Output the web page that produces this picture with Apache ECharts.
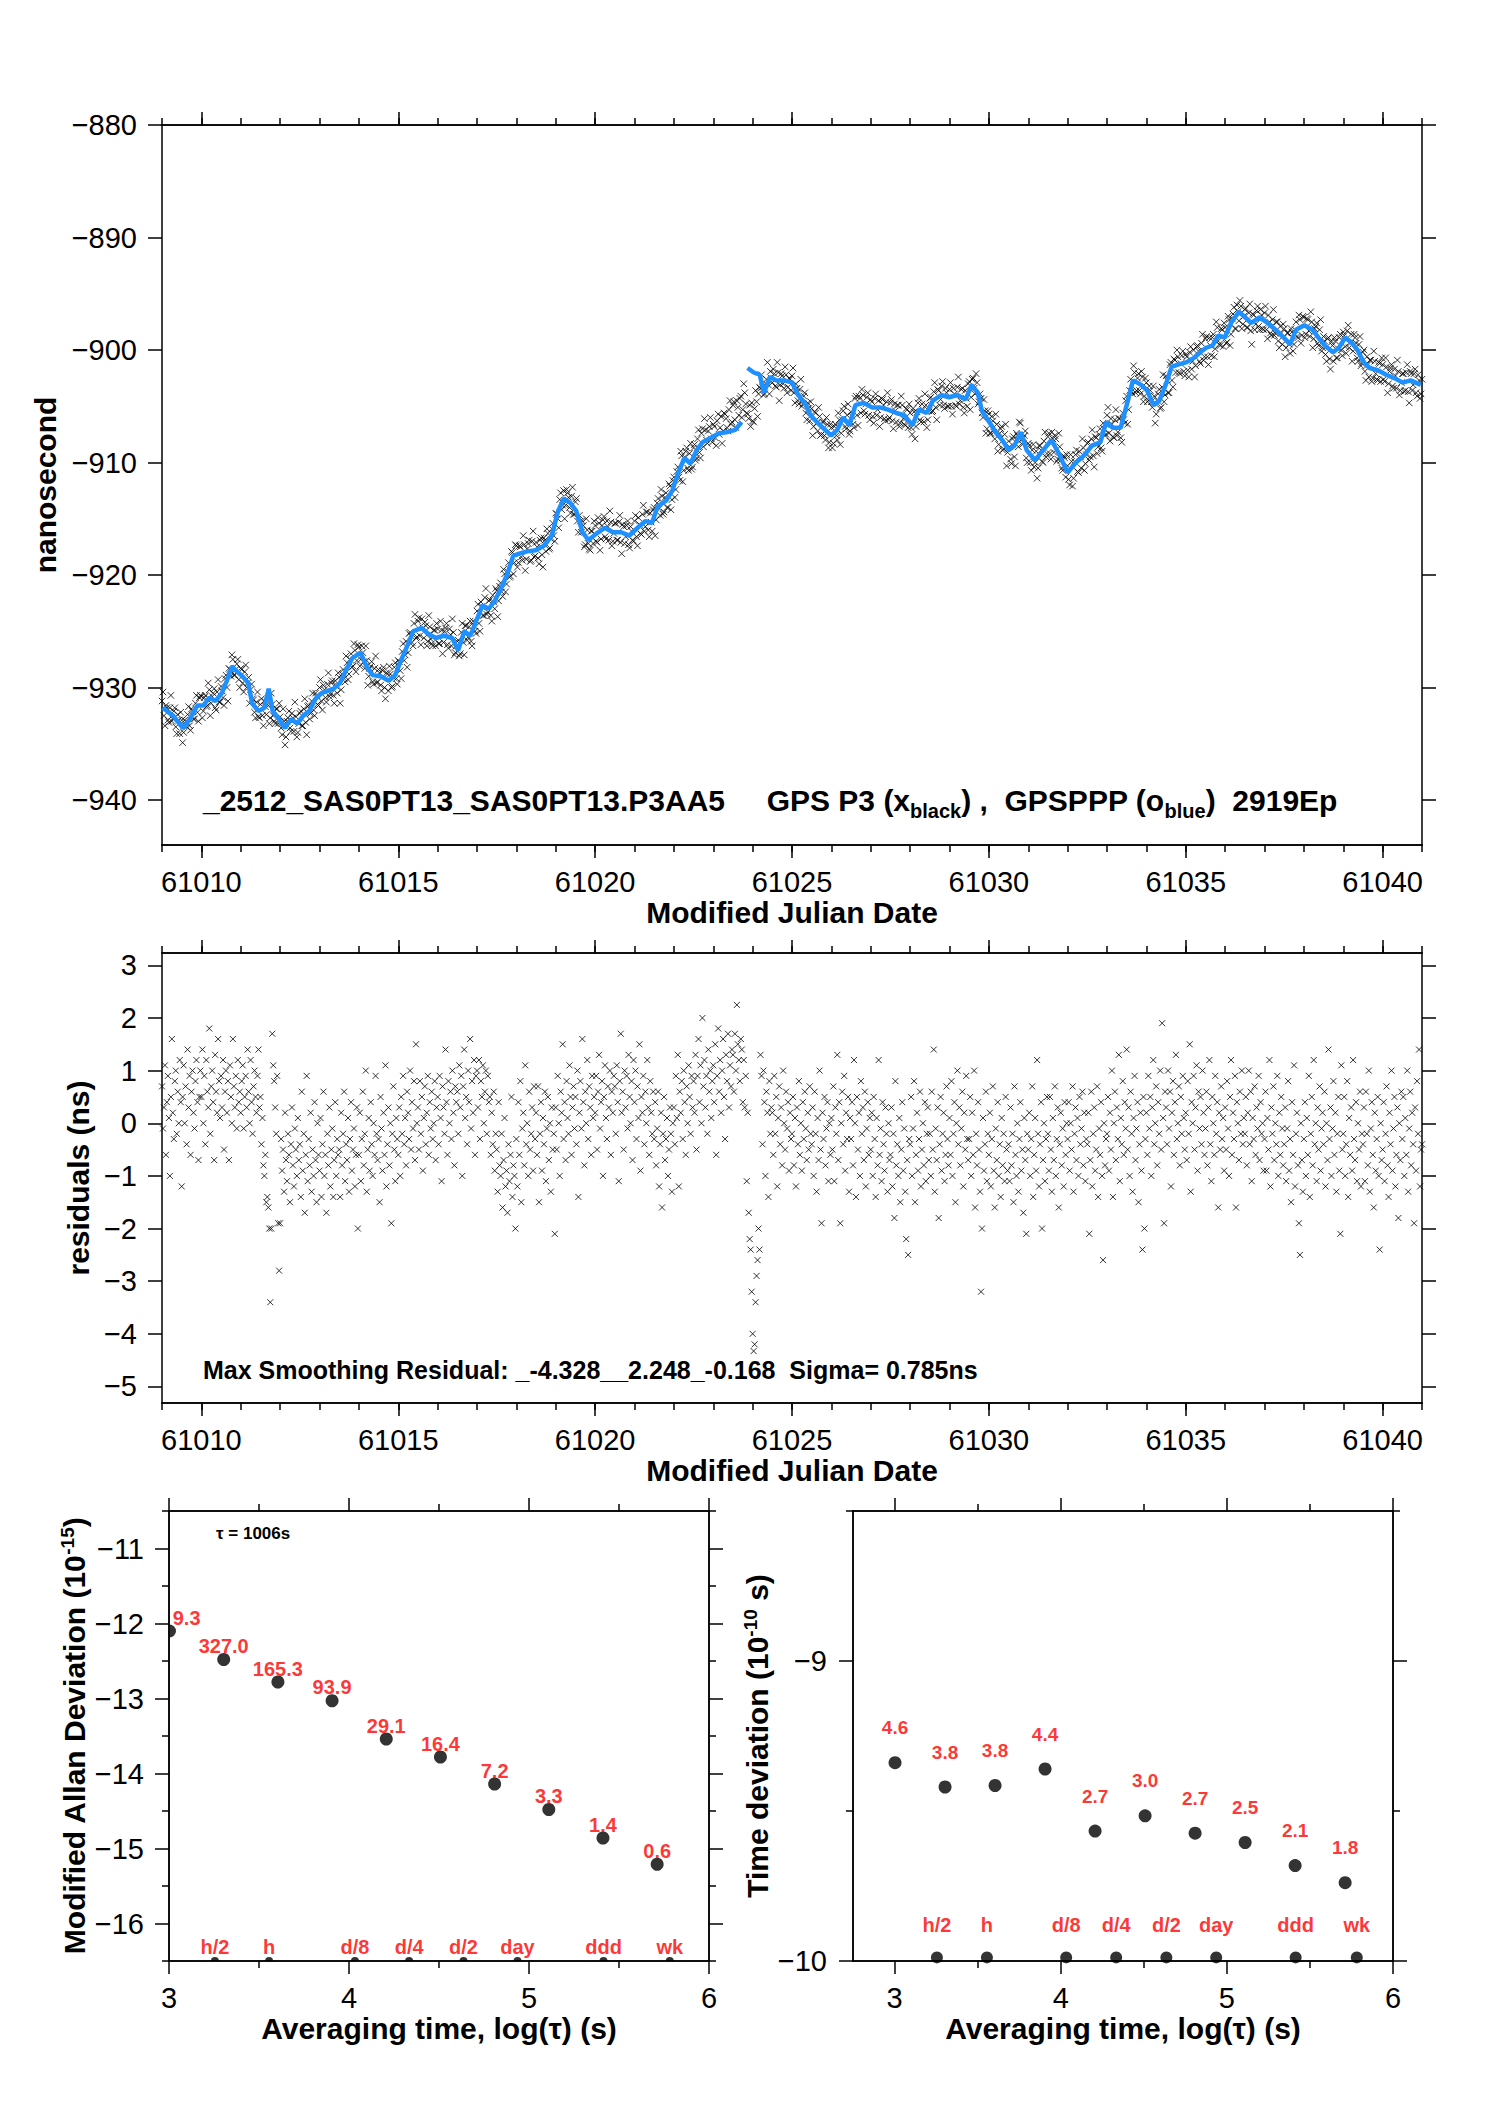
<!DOCTYPE html>
<html><head><meta charset="utf-8">
<script src="https://cdn.jsdelivr.net/npm/echarts@6/dist/echarts.min.js"></script>
<style>html,body{margin:0;padding:0;background:#fff}#c{width:1488px;height:2105px}</style>
</head><body><div id="c"></div>
<script>
// ---------- DATA ----------
// Top panel: GPS P3 black points, epochs every 0.05 d from MJD 61009.000
const blackStart = 61009.0, blackStep = 0.05;
const blackNs = [
-931.2,-932.5,-931.6,-932.9,-931.8,-933.0,-932.1,-933.5,-932.4,-934.1,-932.9,-934.0,-933.0,-932.4,-933.4,-931.9,-932.8,-931.4,-932.2,-930.9,
-930.8,-932.1,-930.7,-931.6,-930.2,-931.4,-930.5,-931.8,-930.4,-931.3,-929.9,-930.9,-929.2,-930.0,-928.3,-929.0,-927.5,-928.9,-927.9,-929.3,
-928.3,-929.6,-928.6,-930.0,-929.1,-930.2,-931.0,-932.2,-931.3,-932.6,-931.5,-932.5,-931.2,-932.4,-931.6,-932.7,-931.5,-933.0,-931.9,-933.2,
-932.6,-934.2,-933.0,-934.4,-932.7,-933.6,-932.3,-933.9,-932.6,-934.0,-932.3,-933.4,-931.9,-933.1,-931.7,-932.8,-931.2,-932.0,-930.5,-931.5,
-930.0,-931.2,-929.8,-930.9,-929.7,-930.8,-929.6,-930.7,-929.4,-930.5,-929.1,-930.2,-928.4,-929.5,-927.8,-928.8,-927.0,-928.1,-926.7,-927.6,
-926.4,-927.5,-926.9,-928.3,-927.6,-929.0,-928.1,-929.5,-928.3,-929.6,-928.4,-929.8,-928.5,-930.0,-928.7,-930.3,-928.8,-929.9,-928.2,-929.2,
-927.6,-928.5,-926.8,-927.6,-925.9,-926.9,-925.1,-926.0,-924.3,-925.6,-924.1,-925.4,-923.9,-925.6,-924.5,-925.9,-924.6,-926.1,-924.9,-926.3,
-924.8,-926.1,-924.9,-926.0,-924.7,-926.2,-924.8,-926.3,-925.1,-926.9,-925.9,-927.2,-925.1,-926.0,-924.5,-925.8,-924.6,-925.9,-924.1,-925.0,
-923.2,-924.3,-922.4,-923.6,-922.0,-923.5,-922.3,-923.6,-921.8,-923.0,-921.4,-922.3,-920.7,-921.9,-919.9,-920.8,-918.9,-920.1,-918.0,-918.9,
-917.4,-918.9,-917.5,-918.7,-917.3,-918.6,-917.2,-918.8,-917.0,-918.4,-917.1,-918.5,-916.9,-918.2,-916.7,-917.9,-916.3,-917.6,-915.9,-916.5,
-914.5,-915.0,-913.3,-914.2,-912.5,-913.8,-912.7,-914.0,-913.0,-914.6,-913.5,-915.2,-914.7,-916.2,-915.6,-917.3,-916.0,-917.7,-916.1,-917.2,
-915.6,-917.1,-915.4,-916.8,-915.1,-916.6,-915.2,-916.9,-915.3,-917.0,-915.4,-916.9,-915.3,-917.1,-915.5,-917.2,-915.6,-917.3,-915.7,-916.9,
-915.2,-916.6,-914.9,-916.3,-914.6,-916.1,-914.4,-916.0,-914.5,-916.1,-914.0,-915.1,-913.2,-914.7,-913.0,-914.4,-912.7,-914.0,-912.1,-913.3,
-911.3,-912.4,-910.4,-911.6,-909.4,-910.7,-909.0,-910.5,-909.2,-910.6,-908.7,-909.8,-907.9,-909.1,-907.4,-908.6,-907.1,-908.3,-906.8,-907.9,
-906.6,-907.8,-906.3,-907.5,-905.9,-907.2,-905.7,-906.9,-905.3,-906.6,-904.9,-906.2,-904.5,-905.8,-904.1,-905.3,-903.8,-905.6,-906.1,-906.8,
-906.3,-905.2,-904.6,-903.9,-903.4,-903.3,-903.9,-902.6,-903.1,-901.9,-902.9,-902.1,-903.3,-902.0,-903.1,-902.3,-903.4,-902.2,-903.3,-902.6,
-902.3,-903.8,-903.0,-904.5,-903.5,-905.0,-904.1,-905.6,-904.7,-906.3,-905.2,-906.8,-905.6,-907.2,-905.9,-907.5,-906.4,-908.0,-906.6,-908.2,
-906.9,-908.3,-906.6,-908.0,-906.2,-907.4,-905.4,-906.8,-905.8,-907.5,-905.5,-906.6,-904.3,-905.8,-904.1,-905.6,-904.0,-905.7,-904.2,-905.8,
-904.4,-905.9,-904.3,-905.8,-904.5,-906.0,-904.4,-906.1,-904.6,-906.2,-904.7,-906.3,-904.8,-906.4,-904.9,-906.5,-904.9,-906.6,-905.2,-906.9,
-905.6,-907.5,-905.5,-906.8,-904.7,-906.2,-904.8,-906.4,-904.9,-906.2,-904.3,-905.5,-903.7,-905.1,-903.5,-904.9,-903.2,-904.9,-903.4,-905.0,
-903.5,-905.0,-903.4,-904.9,-903.3,-904.8,-903.5,-905.1,-903.6,-905.0,-902.8,-904.2,-902.5,-903.9,-902.9,-904.6,-904.3,-906.0,-905.4,-907.0,
-905.7,-907.4,-906.3,-907.9,-906.6,-908.4,-907.0,-908.9,-907.5,-910.3,-908.1,-909.7,-907.9,-909.5,-907.4,-908.6,-906.5,-908.4,-907.6,-909.6,
-908.3,-910.0,-908.9,-910.4,-909.0,-910.5,-908.5,-909.9,-908.1,-909.5,-907.7,-909.2,-907.3,-909.1,-907.9,-909.7,-908.6,-910.5,-909.4,-911.3,
-910.3,-912.0,-909.9,-911.4,-909.3,-910.8,-909.0,-910.5,-908.7,-910.1,-908.3,-909.8,-907.9,-909.4,-907.7,-909.2,-907.5,-908.7,-906.5,-907.6,
-905.8,-907.4,-906.1,-907.7,-906.2,-907.6,-906.1,-907.8,-905.6,-906.5,-904.1,-905.3,-902.6,-903.9,-902.0,-903.6,-902.1,-903.9,-902.4,-904.1,
-902.9,-904.5,-903.6,-905.1,-904.1,-905.7,-903.9,-905.2,-903.3,-904.6,-902.3,-903.8,-901.3,-902.7,-900.8,-902.0,-900.6,-902.1,-900.5,-901.9,
-900.4,-901.8,-900.2,-901.7,-900.0,-901.4,-899.6,-901.0,-899.4,-900.9,-899.0,-900.6,-898.9,-900.5,-898.6,-899.9,-898.0,-899.5,-898.1,-899.7,
-898.0,-899.3,-897.3,-898.6,-896.8,-898.1,-896.0,-897.4,-896.1,-897.7,-896.4,-898.0,-896.7,-898.3,-896.8,-898.2,-896.5,-897.9,-896.4,-898.1,
-896.7,-898.2,-896.9,-898.5,-897.3,-898.7,-897.5,-899.2,-897.9,-899.5,-898.1,-899.8,-898.5,-900.3,-898.4,-899.5,-897.5,-898.9,-897.3,-898.7,
-897.1,-898.6,-897.3,-898.8,-897.5,-899.0,-897.9,-899.4,-898.2,-900.1,-898.8,-900.4,-899.0,-900.8,-899.3,-901.0,-899.2,-900.7,-898.9,-900.0,
-898.4,-899.7,-898.3,-899.8,-898.6,-900.1,-898.9,-900.7,-899.5,-901.4,-900.2,-901.9,-900.6,-902.4,-900.9,-902.5,-901.0,-902.6,-901.1,-902.8,
-901.3,-902.8,-901.5,-903.0,-901.6,-903.2,-901.7,-903.4,-901.9,-903.6,-902.1,-903.7,-902.0,-903.7,-901.9,-903.6,-902.1,-903.8,-902.2,-904.3,
-902.6];
// Top panel: more GPS P3 black points, epochs every 0.05 d from MJD 61009.025
const blackStartB = 61009.025;
const blackNsB = [
-930.4,-933.4,-931.8,-933.1,-930.7,-932.8,-931.8,-934.1,-932.9,-932.2,-934.9,-932.9,-933.5,-931.7,-933.8,-932.1,-932.8,-930.7,-933.0,-930.7,
-932.7,-930.9,-931.7,-929.6,-932.5,-930.8,-930.1,-932.0,-929.3,-931.3,-930.3,-931.6,-928.9,-931.2,-928.4,-927.1,-928.9,-928.4,-927.5,-930.0,
-928.4,-930.4,-928.0,-929.6,-931.4,-929.7,-931.1,-932.7,-930.4,-932.7,-931.0,-933.4,-931.7,-931.2,-933.2,-930.5,-932.5,-933.2,-931.9,-931.4,
-933.6,-931.9,-935.1,-933.0,-932.1,-933.9,-932.7,-931.3,-934.4,-933.2,-932.1,-933.4,-931.0,-934.2,-931.6,-932.3,-930.5,-932.5,-930.7,-931.6,
-929.3,-932.0,-930.2,-931.3,-928.7,-930.6,-929.4,-931.4,-929.9,-928.7,-931.4,-928.8,-929.2,-927.2,-929.3,-927.5,-928.2,-926.1,-928.6,-926.2,
-928.1,-926.3,-927.7,-926.3,-929.8,-928.3,-927.7,-929.7,-927.2,-929.5,-928.7,-930.3,-928.2,-931.0,-928.8,-928.1,-930.0,-929.1,-927.8,-929.7,
-927.7,-929.2,-926.1,-927.1,-928.2,-925.2,-925.4,-926.3,-923.5,-925.5,-923.8,-926.2,-924.7,-924.2,-926.3,-923.6,-925.7,-926.3,-924.9,-924.3,
-926.1,-924.1,-927.0,-925.0,-924.3,-926.5,-925.3,-923.9,-927.1,-926.3,-925.8,-927.0,-924.3,-927.1,-924.5,-925.5,-924.1,-926.3,-924.5,-925.2,
-922.6,-925.0,-922.8,-923.6,-921.2,-923.3,-922.2,-924.1,-922.4,-921.2,-923.7,-921.0,-921.5,-919.5,-921.5,-919.7,-920.2,-917.9,-919.9,-917.3,
-919.3,-917.4,-918.4,-916.5,-919.6,-917.7,-916.9,-918.7,-916.1,-918.3,-917.5,-919.0,-916.7,-919.3,-916.9,-915.9,-917.7,-916.8,-915.4,-917.0,
-914.6,-915.8,-912.7,-913.8,-915.0,-912.4,-913.1,-914.5,-912.2,-914.6,-913.2,-916.2,-915.2,-915.2,-917.5,-915.0,-917.2,-917.8,-916.1,-915.2,
-917.0,-914.9,-917.8,-915.6,-914.8,-916.8,-915.7,-914.3,-917.4,-916.3,-915.4,-916.9,-914.7,-918.1,-915.7,-916.6,-915.2,-917.6,-916.1,-917.0,
-914.7,-917.4,-915.5,-916.4,-913.8,-915.7,-914.4,-916.6,-915.3,-914.2,-916.5,-913.6,-914.1,-912.4,-914.6,-913.1,-914.0,-911.9,-914.2,-911.6,
-913.1,-910.8,-911.3,-909.0,-911.7,-909.5,-908.7,-910.7,-908.3,-910.4,-908.4,-909.6,-907.1,-909.6,-907.0,-906.1,-908.0,-907.2,-906.0,-908.2,
-906.8,-908.5,-905.7,-906.9,-908.3,-905.6,-906.1,-907.2,-904.5,-906.4,-904.6,-906.9,-905.1,-904.3,-906.0,-903.0,-904.8,-905.7,-904.9,-904.7,
-906.4,-903.6,-905.9,-903.3,-902.2,-904.0,-903.0,-901.1,-903.9,-902.5,-901.7,-903.2,-901.1,-904.5,-902.1,-903.0,-901.5,-903.8,-902.5,-903.6,
-901.6,-904.7,-903.4,-904.8,-902.6,-904.8,-903.8,-906.2,-905.2,-904.6,-907.6,-905.5,-906.5,-905.1,-907.6,-906.4,-907.6,-906.0,-908.7,-906.6,
-908.7,-906.8,-907.6,-905.6,-908.4,-906.2,-905.0,-907.0,-904.8,-907.2,-905.9,-906.9,-904.1,-906.7,-904.3,-903.5,-905.4,-904.8,-903.8,-906.2,
-904.6,-906.5,-903.9,-905.3,-906.8,-904.3,-904.9,-906.3,-903.8,-906.0,-904.4,-907.0,-905.4,-904.9,-906.8,-904.1,-906.1,-906.7,-905.3,-904.8,
-906.9,-905.2,-907.9,-905.5,-904.3,-906.4,-905.3,-903.9,-906.9,-905.4,-904.2,-905.4,-902.9,-906.2,-903.6,-904.4,-902.8,-905.2,-903.8,-905.0,
-902.9,-905.7,-903.9,-905.0,-902.4,-904.5,-903.4,-905.6,-904.3,-903.0,-905.3,-902.6,-903.4,-902.1,-904.8,-903.9,-905.6,-904.4,-907.4,-905.4,
-907.4,-905.9,-907.3,-905.7,-909.0,-907.4,-906.8,-908.8,-906.6,-909.1,-908.6,-910.1,-907.7,-910.3,-907.6,-906.4,-908.0,-907.8,-907.2,-910.0,
-908.5,-910.7,-908.4,-910.0,-911.4,-908.5,-908.9,-910.0,-907.3,-909.2,-907.4,-909.7,-907.9,-907.6,-909.9,-907.4,-909.8,-910.7,-909.6,-909.3,
-911.5,-909.3,-912.1,-909.9,-908.9,-910.9,-909.5,-907.9,-910.7,-909.3,-908.2,-909.5,-907.1,-910.4,-907.8,-908.6,-907.0,-909.0,-907.0,-907.5,
-905.1,-908.1,-906.6,-907.8,-905.3,-907.3,-906.1,-908.2,-906.2,-904.5,-906.6,-903.6,-903.7,-901.4,-903.8,-902.5,-903.6,-901.9,-904.6,-902.5,
-904.6,-903.2,-904.6,-903.2,-906.5,-904.5,-903.5,-905.1,-902.2,-904.0,-902.7,-903.8,-901.1,-903.3,-900.9,-900.0,-902.0,-901.2,-900.1,-902.3,
-900.6,-902.4,-899.7,-901.0,-902.4,-899.7,-900.1,-901.2,-898.6,-900.6,-898.8,-901.3,-899.6,-898.9,-900.6,-897.5,-899.2,-899.6,-898.2,-897.6,
-899.4,-897.0,-899.6,-897.2,-896.2,-898.1,-896.6,-895.6,-898.1,-897.0,-896.3,-898.0,-895.9,-899.5,-896.9,-897.7,-896.1,-898.2,-896.9,-898.2,
-896.1,-899.0,-897.5,-898.7,-896.4,-898.5,-897.5,-899.8,-898.5,-897.7,-900.6,-898.5,-899.5,-898.1,-900.1,-898.2,-898.8,-896.9,-899.4,-897.0,
-898.9,-897.2,-898.3,-896.6,-899.8,-898.1,-897.6,-899.6,-897.3,-899.8,-899.2,-901.0,-898.9,-901.7,-899.6,-898.9,-900.7,-899.9,-898.6,-900.5,
-898.7,-900.3,-897.8,-899.4,-901.0,-898.6,-899.4,-901.0,-898.8,-901.2,-900.0,-902.7,-901.3,-900.9,-902.8,-900.1,-902.1,-902.7,-901.2,-900.7,
-902.6,-900.7,-903.8,-901.9,-901.3,-903.4,-902.3,-900.9,-904.0,-902.9,-902.1,-903.6,-901.3,-904.7,-902.1,-903.1,-901.7,-904.1,-902.7,-903.9];

// Top panel: GPSPPP blue curve (MJD, ns); null = gap
const blueMjd = [61009.02,61009.28,61009.53,61009.69,61009.90,61010.05,61010.20,61010.36,61010.52,61010.67,61010.78,61010.88,61011.04,61011.19,61011.29,61011.45,61011.60,61011.71,61011.81,61011.97,
61012.12,61012.28,61012.43,61012.59,61012.74,61012.90,61013.05,61013.21,61013.36,61013.52,61013.67,61013.83,61014.04,61014.19,61014.35,61014.55,61014.76,61014.92,61015.07,61015.23,
61015.38,61015.59,61015.75,61015.95,61016.16,61016.37,61016.52,61016.68,61016.83,61016.99,61017.14,61017.30,61017.45,61017.61,61017.76,61017.92,61018.07,61018.28,61018.49,61018.70,
61018.90,61019.06,61019.21,61019.37,61019.52,61019.68,61019.83,61020.04,61020.25,61020.45,61020.66,61020.87,61021.08,61021.28,61021.44,61021.59,61021.80,61021.96,61022.11,61022.27,
61022.42,61022.58,61022.73,61022.94,61023.15,61023.35,61023.56,61023.72,61023.80,61023.87,61024.03,61024.18,61024.29,61024.44,61024.60,61024.80,61025.00,61025.16,61025.32,61025.47,
61025.63,61025.78,61025.99,61026.15,61026.30,61026.46,61026.61,61026.82,61027.03,61027.23,61027.44,61027.65,61027.85,61028.06,61028.22,61028.42,61028.58,61028.79,61028.99,61029.20,
61029.41,61029.56,61029.72,61029.82,61030.03,61030.19,61030.34,61030.50,61030.65,61030.81,61030.96,61031.17,61031.38,61031.59,61031.79,61032.00,61032.21,61032.41,61032.62,61032.83,
61032.98,61033.14,61033.35,61033.50,61033.66,61033.87,61034.02,61034.18,61034.33,61034.49,61034.64,61034.80,61035.01,61035.21,61035.37,61035.52,61035.68,61035.83,61035.99,61036.15,
61036.35,61036.51,61036.66,61036.87,61037.08,61037.28,61037.49,61037.65,61037.80,61038.01,61038.22,61038.37,61038.53,61038.74,61038.89,61039.05,61039.20,61039.36,61039.52,61039.67,
61039.88,61040.09,61040.30,61040.51,61040.71,61040.97];
const blueNs = [-931.8,-932.5,-933.6,-932.9,-931.6,-931.6,-930.9,-931.2,-930.5,-929.2,-928.1,-928.5,-929.0,-929.6,-931.4,-932.1,-931.8,-930.1,-932.1,-932.8,
-933.6,-932.8,-933.2,-932.5,-932.1,-931.0,-930.5,-930.3,-930.1,-929.6,-928.5,-927.4,-926.9,-928.1,-928.9,-929.0,-929.4,-928.9,-927.6,-926.3,
-925.0,-924.7,-925.2,-925.6,-925.4,-925.6,-926.7,-925.0,-925.4,-924.0,-922.7,-923.0,-922.3,-921.2,-920.0,-918.3,-918.1,-917.9,-917.8,-917.4,
-916.5,-914.3,-913.2,-913.6,-914.3,-916.2,-916.9,-916.3,-915.8,-916.2,-916.2,-916.5,-915.8,-915.2,-915.4,-913.9,-913.4,-912.5,-910.9,-909.6,
-910.1,-908.9,-908.2,-907.8,-907.4,-907.3,-907.1,-906.4,null,-901.6,-902.0,-902.2,-903.8,-902.4,-902.7,-902.7,-902.9,-904.0,-904.7,-905.8,
-906.4,-906.9,-907.6,-907.1,-906.0,-906.7,-904.9,-904.7,-905.1,-905.1,-905.3,-905.6,-905.8,-906.7,-905.3,-905.6,-904.5,-904.0,-904.2,-904.0,
-904.4,-903.1,-903.8,-905.4,-906.5,-907.4,-908.0,-908.9,-908.5,-907.3,-908.9,-909.8,-908.9,-908.0,-909.3,-910.9,-910.0,-909.4,-908.5,-908.2,
-906.4,-906.9,-906.9,-904.9,-902.7,-903.1,-903.6,-904.9,-904.5,-903.1,-901.5,-901.3,-901.1,-900.7,-900.2,-899.8,-899.6,-898.7,-898.9,-897.6,
-896.6,-897.1,-897.6,-897.1,-897.6,-898.2,-898.9,-899.5,-898.2,-897.8,-898.2,-898.9,-899.6,-900.2,-899.8,-898.9,-899.3,-900.0,-901.1,-901.6,
-901.8,-902.2,-902.5,-902.9,-902.7,-903.1];

// Middle panel: smoothing residuals (ns), epochs every 0.025 d from MJD 61009.0
const resStart = 61009.0, resStep = 0.025;
const residualNs = [
0.7,-0.1,0.3,1.1,-0.6,0.4,0.9,0.1,-1.0,0.5,1.6,0.2,-0.3,0.8,1.0,-0.2,0.6,0.0,1.2,0.4,
-1.2,0.5,1.1,0.0,0.7,-0.4,1.4,0.3,0.9,-0.6,0.6,1.0,0.2,-0.1,0.8,1.2,0.4,-0.7,0.5,1.0,
0.5,1.4,0.0,0.9,-0.4,1.2,0.6,0.3,1.8,-0.2,0.7,1.0,0.4,-0.7,1.3,0.6,0.2,1.6,0.8,0.1,
0.9,0.3,1.2,-0.5,0.6,1.0,0.2,0.8,-0.7,1.1,0.5,0.0,1.6,0.7,0.3,0.9,-0.1,1.2,0.4,0.6,
0.2,0.8,1.1,-0.1,0.5,0.9,0.3,1.4,0.6,0.0,1.2,0.4,-0.2,0.7,1.0,0.5,0.2,0.9,1.4,0.3,
0.5,-0.4,0.1,-0.8,-1.0,-0.6,-1.5,-1.4,-1.6,-2.0,-3.4,-2.0,1.7,1.1,0.8,0.3,-0.2,0.9,-1.9,-2.8,
-1.9,-0.3,-0.9,-0.5,-1.3,0.2,-0.7,-1.1,-0.2,-0.6,-1.5,-0.4,0.3,-0.8,-1.2,-0.1,-0.5,-1.0,0.1,-0.7,
-0.4,-1.4,0.6,-0.9,-0.2,-1.7,-0.6,0.9,-1.1,-0.3,-0.8,0.2,-1.3,-0.5,-1.0,0.4,-0.7,-1.5,0.0,-0.6,
-0.9,0.1,-1.4,-0.4,0.6,-1.0,-0.6,-1.7,-0.2,-0.8,0.3,-1.2,-0.5,-0.1,-1.4,-0.7,0.4,-1.0,-0.3,-0.6,
-0.5,-1.4,0.2,-0.8,-0.2,0.6,-1.1,-0.4,-0.7,0.1,-1.3,-0.3,0.4,-0.9,-0.5,-0.1,-1.2,-0.6,0.3,-2.0,
-0.6,0.2,-1.1,-0.3,0.6,-0.8,-0.2,1.0,-1.3,-0.5,0.1,-0.9,0.4,-0.4,-1.0,0.0,-0.6,0.9,-0.2,-0.7,
-0.3,-1.5,0.5,-0.1,-0.9,0.2,-0.6,1.1,-1.2,-0.4,0.3,-0.8,0.0,-1.9,-0.2,0.7,-0.5,-1.1,0.1,-0.3,
-0.6,0.3,-1.0,0.5,-0.2,0.9,-0.4,0.1,-0.8,0.6,0.2,-0.3,1.0,-0.5,0.4,-0.1,0.8,-0.7,1.5,0.0,
0.3,-0.5,0.8,-0.2,0.5,-0.9,0.1,0.7,-0.4,0.2,0.9,-0.6,0.4,-0.1,0.6,-0.3,0.0,0.8,-0.7,0.3,
0.5,-0.4,0.9,0.1,-1.1,0.7,0.3,-0.2,1.4,0.4,-0.6,0.8,0.0,0.6,-0.3,1.0,0.2,-0.8,0.7,0.4,
0.6,-0.2,1.1,0.3,0.9,-1.0,0.7,1.4,0.1,0.5,-0.4,1.0,0.4,1.6,-0.1,0.8,0.2,1.2,-0.6,0.9,
1.0,0.3,1.2,-0.3,0.8,0.5,1.1,0.0,0.6,1.0,-0.2,0.9,0.4,0.5,-0.6,0.2,-0.4,0.6,-0.9,-0.2,
-0.5,-1.3,0.4,-0.8,-1.0,-0.2,-1.6,-0.7,0.1,-1.2,-0.9,-1.7,-0.4,-1.1,-0.6,0.5,-1.4,-0.8,-1.0,-2.0,
-0.3,-1.2,0.4,-0.6,0.8,-1.5,-0.1,0.2,-0.8,1.1,-0.4,0.0,-1.0,0.6,-0.5,-0.2,0.3,-0.9,0.7,-0.3,
0.2,-0.6,0.7,-1.5,-0.2,0.4,-0.9,0.1,-0.4,0.6,-1.1,-0.1,0.5,-0.7,0.0,-1.3,0.3,-0.5,-0.2,-2.1,
0.3,-0.5,0.9,0.0,-1.0,0.6,0.2,1.5,-0.3,0.4,-0.7,0.8,0.1,-0.2,1.1,0.5,-0.6,0.3,0.7,-0.1,
0.5,-0.4,1.0,-1.4,0.2,0.8,-0.1,1.6,0.4,-0.8,0.6,0.0,1.2,-0.3,0.7,0.3,-0.6,0.9,0.1,0.5,
0.2,0.9,-0.5,0.6,1.3,-0.1,0.4,0.8,-1.0,0.5,1.1,0.1,-0.3,0.7,0.3,1.0,-0.6,0.6,0.2,0.9,
0.7,-0.2,1.1,0.4,-1.1,0.8,1.7,0.2,0.6,-0.5,1.0,0.3,0.9,-0.1,1.3,0.5,0.0,0.8,-0.7,1.2,
0.4,1.0,-0.3,0.7,0.1,1.5,-0.9,0.5,0.2,0.9,-0.4,0.6,0.0,1.2,0.3,-0.6,0.8,0.2,-0.2,0.6,
-0.3,0.4,-0.8,-0.1,0.6,-1.2,-0.4,0.2,-1.6,-0.2,0.5,-0.7,-0.3,0.1,-1.0,-0.5,0.3,-0.2,-1.3,0.0,
0.3,-0.4,0.9,0.1,1.3,-1.2,0.6,0.2,0.8,-0.3,1.0,0.4,-0.6,0.7,0.0,1.1,0.5,-0.2,0.9,0.3,
0.8,0.2,1.3,-0.5,0.9,1.6,0.4,1.1,0.0,2.0,0.7,1.2,0.3,0.9,-0.2,1.4,0.6,1.0,0.1,0.8,
1.1,0.4,1.5,-0.6,0.9,1.8,0.6,1.2,0.2,1.0,1.6,0.5,-0.3,1.3,0.8,1.7,0.3,1.1,0.7,1.4,
1.3,0.6,1.7,1.0,2.248,1.5,1.2,0.8,1.6,1.4,0.4,1.2,0.3,0.9,-1.1,0.2,-1.7,-2.2,-2.4,-3.2,
-4.0,-4.328,-4.2,-3.4,-2.9,-2.6,-2.0,-2.4,1.3,0.9,-0.4,1.0,0.4,-1.0,0.6,0.2,-1.4,0.8,-0.2,0.3,
0.2,-0.6,0.9,-0.2,0.5,-1.2,0.1,0.7,-0.4,0.3,-0.8,1.0,0.0,-0.5,0.6,-0.1,0.4,-0.9,0.2,-0.3,
-0.2,0.5,-0.8,0.1,-1.2,0.3,-0.4,0.8,-0.6,0.0,-0.9,0.4,-0.3,0.6,-0.1,-0.7,0.2,-0.5,0.7,-0.2,
-0.4,0.3,-1.0,0.6,-0.2,-1.3,0.1,-0.7,1.0,-0.5,-1.9,0.2,-0.3,0.5,-0.8,-0.1,0.4,-1.1,0.0,-0.6,
0.1,-0.5,0.7,-1.1,0.3,-0.2,1.3,-0.7,0.4,-1.9,0.0,0.6,-0.4,0.9,-0.9,0.2,-0.3,0.5,-1.3,0.1,
-0.3,0.4,-0.8,1.2,0.0,-1.4,0.5,-0.5,0.2,-1.0,0.8,-0.2,0.3,-0.7,0.6,-1.2,-0.1,0.4,-0.6,0.1,
-0.5,0.2,-1.0,0.5,-0.3,-1.4,0.1,-0.8,1.2,-0.6,-0.1,-1.1,0.4,-0.4,-0.9,0.3,-0.2,-1.3,0.0,-0.7,
-0.6,0.3,-1.2,-0.2,-1.8,0.8,-0.8,-0.4,-1.0,0.1,-1.5,-0.5,0.4,-0.9,-0.1,-1.3,-2.2,-0.7,-2.5,-0.3,
-0.4,0.5,-1.0,-0.1,0.8,-1.5,-0.6,0.2,-0.9,-0.3,0.6,-1.2,-0.5,0.0,-0.8,0.4,-1.1,-0.2,0.3,-0.7,
-0.2,-1.0,0.6,-0.5,1.4,-1.3,-0.1,-0.7,0.3,-1.8,-0.4,0.5,-0.9,-0.2,0.2,-1.1,-0.6,0.7,-0.3,-0.8,
0.1,-0.6,0.8,-1.0,-0.2,0.4,-1.5,0.0,1.0,-0.4,0.3,-0.8,-0.1,0.6,-1.2,0.2,-0.5,0.9,-0.3,-0.7,
-0.3,0.5,-1.0,0.2,-0.6,1.0,-1.6,-0.2,-0.8,0.4,-0.5,-1.3,-3.2,-2.0,0.1,-0.9,-0.4,0.6,-1.1,-0.2,
-0.6,0.2,-1.2,-0.3,0.7,-0.9,-1.6,-0.1,-0.7,0.4,-1.0,-0.4,-1.4,0.1,-0.8,-0.2,-1.1,0.5,-0.5,-0.9,
-0.4,-1.1,0.3,-0.8,-0.2,-1.5,0.7,-0.6,-1.0,0.0,-1.3,-0.3,0.4,-0.9,-0.5,-1.7,0.1,-0.7,-2.1,-0.2,
-0.5,0.2,-1.0,-0.3,0.7,-1.4,-0.6,0.1,-0.9,1.2,-0.2,-1.2,-0.4,0.4,-2.0,-0.7,0.0,-1.1,-0.3,0.5,
-0.2,-0.9,0.5,-0.5,-1.3,0.1,-0.7,0.7,-1.0,-0.3,0.3,-1.6,-0.4,0.2,-0.8,-0.1,-1.2,0.4,-0.6,0.0,
-0.3,0.4,-0.9,0.0,-0.5,0.7,-1.3,-0.2,0.3,-0.7,0.1,-1.0,0.5,-0.4,-0.1,0.6,-0.8,0.2,-1.1,-0.3,
-0.4,0.2,-2.1,-0.7,0.6,-1.2,-0.2,0.3,-0.9,-0.5,0.7,-1.4,-0.1,-0.6,0.4,-1.0,-2.6,0.0,-0.8,-0.3,
-0.2,0.5,-0.9,0.2,-0.5,1.0,-1.4,0.0,0.6,-0.7,0.3,-0.3,1.3,-1.1,0.1,-0.4,0.8,-0.6,0.4,-0.1,
1.4,-0.5,0.3,-1.0,0.6,-0.2,-1.3,0.1,0.9,-0.7,-0.1,0.4,-1.5,-0.4,0.2,-0.9,-2.4,0.5,-2.0,-0.3,
0.2,-0.6,0.9,-0.1,0.5,-1.0,0.3,1.2,-0.4,0.0,0.7,-0.8,0.4,-0.2,1.0,-0.5,1.9,0.1,-1.9,0.6,
0.3,-0.4,1.0,-0.1,0.6,-1.2,0.2,0.8,-0.6,0.4,1.3,-0.3,0.0,0.7,-0.8,0.5,-0.2,0.9,0.1,-0.5,
0.2,-0.7,0.8,-0.2,1.5,-1.3,0.4,0.0,0.9,-0.5,0.3,1.1,-0.9,0.6,-0.1,0.5,-0.4,1.0,0.2,-0.6,
-0.1,0.6,-0.8,0.3,1.2,-0.4,-1.1,0.5,0.0,-0.6,0.9,-0.2,0.4,-1.6,0.2,-0.5,0.7,-0.3,0.1,-0.9,
0.3,-0.5,0.8,-0.1,-1.0,0.5,1.2,-0.6,0.2,-0.3,0.9,-1.6,0.4,0.0,-0.7,0.6,-0.2,1.0,-0.4,0.1,
-0.2,0.5,-0.8,0.2,1.0,-0.4,0.6,-1.1,0.1,-0.3,0.7,-0.6,0.3,-0.1,0.9,-0.7,0.4,-0.2,0.0,-0.9,
-0.3,0.6,-0.9,0.1,-0.5,1.2,-1.2,0.3,-0.2,0.7,-0.7,0.0,-0.4,0.9,-1.0,0.2,-0.6,0.5,-0.1,-0.8,
-0.4,0.3,-1.1,-0.1,0.8,-0.9,-0.3,-1.5,0.4,-0.6,1.1,-1.2,-0.2,0.2,-0.8,-1.9,-2.5,0.0,-0.7,-1.3,
-0.3,0.4,-1.0,0.1,-0.6,0.9,-1.4,-0.2,0.5,-0.8,1.2,-0.4,0.0,-1.1,0.3,-0.5,0.7,-0.9,-0.1,0.2,
-0.4,0.6,-1.2,0.0,-0.7,1.4,-0.3,0.3,-1.0,-0.1,0.8,-0.6,0.2,-1.3,-0.2,0.5,-0.9,-2.1,1.1,-0.5,
-0.2,0.5,-1.0,-0.4,0.8,-1.4,0.1,-0.6,0.3,-0.9,1.2,-0.3,-0.7,0.4,-1.1,0.0,-0.5,0.6,-1.2,-0.2,
-0.4,0.3,-1.1,0.6,-0.2,-0.8,1.0,-1.3,-0.1,0.4,-0.6,-1.6,0.2,-0.9,-0.3,0.5,-1.0,-2.4,0.0,-0.7,
-0.5,0.4,-1.1,-0.2,0.7,-0.8,-1.4,0.2,-0.4,1.0,-0.9,-0.1,0.5,-1.2,-0.6,0.3,-1.8,0.0,-0.7,0.6,
-0.3,0.5,-1.0,0.1,-0.6,1.0,-1.3,-0.1,0.6,-0.8,0.2,-0.4,-1.9,0.3,-0.9,0.8,-0.2,1.4,-1.2,-0.5,
-0.4];

// Bottom panels: log10(tau) and deviations
const logTau = [3.003, 3.304, 3.605, 3.906, 4.207, 4.508, 4.809, 5.110, 5.411, 5.712];
const modAdevLog = [-12.10, -12.48, -12.78, -13.03, -13.54, -13.78, -14.14, -14.48, -14.86, -15.21];
const modAdevLabels = ['9.3', '327.0', '165.3', '93.9', '29.1', '16.4', '7.2', '3.3', '1.4', '0.6'];
const tdevLog = [-9.339, -9.420, -9.415, -9.360, -9.567, -9.516, -9.574, -9.605, -9.682, -9.739];
const tdevLabels = ['4.6', '3.8', '3.8', '4.4', '2.7', '3.0', '2.7', '2.5', '2.1', '1.8'];
const markNames = ['h/2', 'h', 'd/8', 'd/4', 'd/2', 'day', 'ddd', 'wk'];
const markLogTau = [3.255, 3.556, 4.033, 4.334, 4.636, 4.936, 5.414, 5.782];

// Tick labels
const mjdTicks = [61010, 61015, 61020, 61025, 61030, 61035, 61040];
const nsTicks = [-940, -930, -920, -910, -900, -890, -880];
const resTicks = [-5, -4, -3, -2, -1, 0, 1, 2, 3];
const adevTicks = [-16, -15, -14, -13, -12, -11];
const tdevTicks = [-10, -9];
const tauTicks = [3, 4, 5, 6];

// ---------- BUILD ----------
const FONT = '"Liberation Sans", Arial, Helvetica, sans-serif';
const AXS = {color: '#000', width: 1.5};
const minus = v => String(v).replace('-', '\u2212');
const range = (a, b, s) => { const r = []; for (let v = a; v <= b + 1e-9; v += s) r.push(+v.toFixed(3)); return r; };

function ax(o) {
  const a = {
    type: 'value', gridIndex: o.grid, min: o.min, max: o.max, position: o.pos,
    axisLine: {show: true, onZero: false, lineStyle: AXS},
    axisTick: {show: true, inside: false, length: o.len, customValues: o.ticks, lineStyle: AXS},
    axisLabel: {show: false},
    splitLine: {show: false}, splitArea: {show: false}, minorTick: {show: false}, axisPointer: {show: false}
  };
  if (o.labels) a.axisLabel = {show: true, customValues: o.labels, margin: o.margin, color: '#000',
    fontSize: 29, fontFamily: FONT, formatter: minus};
  if (o.name) {
    a.name = o.name; a.nameLocation = 'middle'; a.nameGap = o.gap;
    if (o.rotate) a.nameRotate = o.rotate;
    a.nameTextStyle = {fontFamily: FONT, fontSize: 30, fontWeight: 'bold', color: '#000',
      rich: {
        a: {fontFamily: FONT, fontSize: 30, fontWeight: 'bold', color: '#000'},
        s: {fontFamily: FONT, fontSize: 19, fontWeight: 'bold', color: '#000', padding: [0, 0, 13, 0]}
      }};
  }
  return a;
}

const mjdAll = range(61009, 61041, 1);
const halfAdev = range(-16.5, -10.5, 1);
const tauMinor = [3.5, 4.5, 5.5];

const xAxis = [];
for (const g of [0, 1]) {
  xAxis.push(ax({grid: g, min: 61009, max: 61041, pos: 'bottom', len: 13, ticks: mjdTicks, labels: mjdTicks, margin: 22, name: 'Modified Julian Date', gap: 52}));
  xAxis.push(ax({grid: g, min: 61009, max: 61041, pos: 'bottom', len: 7, ticks: mjdAll}));
  xAxis.push(ax({grid: g, min: 61009, max: 61041, pos: 'top', len: 13, ticks: mjdTicks}));
  xAxis.push(ax({grid: g, min: 61009, max: 61041, pos: 'top', len: 7, ticks: mjdAll}));
}
for (const [g, mn] of [[2, 3], [3, 2.75]]) {
  xAxis.push(ax({grid: g, min: mn, max: 6, pos: 'bottom', len: 13, ticks: tauTicks, labels: tauTicks, margin: 22, name: 'Averaging time, log(\u03C4) (s)', gap: 52}));
  xAxis.push(ax({grid: g, min: mn, max: 6, pos: 'bottom', len: 7, ticks: tauMinor}));
  xAxis.push(ax({grid: g, min: mn, max: 6, pos: 'top', len: 13, ticks: tauTicks}));
  xAxis.push(ax({grid: g, min: mn, max: 6, pos: 'top', len: 7, ticks: tauMinor}));
}

const yAxis = [
  ax({grid: 0, min: -944, max: -880, pos: 'left', len: 14, ticks: nsTicks, labels: nsTicks, margin: 25, name: 'nanosecond', gap: 95, rotate: 90}),
  ax({grid: 0, min: -944, max: -880, pos: 'right', len: 14, ticks: nsTicks}),
  ax({grid: 1, min: -5.314, max: 3.234, pos: 'left', len: 14, ticks: resTicks, labels: resTicks, margin: 25, name: 'residuals (ns)', gap: 58, rotate: 90}),
  ax({grid: 1, min: -5.314, max: 3.234, pos: 'right', len: 14, ticks: resTicks}),
  ax({grid: 2, min: -16.5, max: -10.5, pos: 'left', len: 14, ticks: adevTicks, labels: adevTicks, margin: 25,
      name: '{a|Modified Allan Deviation (10}{s|-15}{a|)}', gap: 79, rotate: 90}),
  ax({grid: 2, min: -16.5, max: -10.5, pos: 'left', len: 7, ticks: halfAdev}),
  ax({grid: 2, min: -16.5, max: -10.5, pos: 'right', len: 14, ticks: adevTicks}),
  ax({grid: 2, min: -16.5, max: -10.5, pos: 'right', len: 7, ticks: halfAdev}),
  ax({grid: 3, min: -10, max: -8.5, pos: 'left', len: 14, ticks: tdevTicks, labels: tdevTicks, margin: 26,
      name: '{a|Time deviation (10}{s|-10}{a| s)}', gap: 80, rotate: 90}),
  ax({grid: 3, min: -10, max: -8.5, pos: 'left', len: 7, ticks: [-9.5, -8.5]}),
  ax({grid: 3, min: -10, max: -8.5, pos: 'right', len: 14, ticks: tdevTicks}),
  ax({grid: 3, min: -10, max: -8.5, pos: 'right', len: 7, ticks: [-9.5, -8.5]})
];

const XSYM = 'path://M0,0L10,10M10,0L0,10';
const blackData = blackNs.map((v, i) => [+(blackStart + i * blackStep).toFixed(3), v])
  .concat(blackNsB.map((v, i) => [+(blackStartB + i * blackStep).toFixed(3), v]));
const blueData = blueMjd.map((t, i) => [t, blueNs[i] === null ? '-' : blueNs[i]]);
const resData = residualNs.map((v, i) => [+(resStart + i * resStep).toFixed(4), v]);

const adevData = logTau.map((x, i) => {
  const d = {value: [x, modAdevLog[i]]};
  if (i === 0) { d.symbol = 'path://M0,0A10,10 0 0,1 0,20Z'; d.symbolSize = [6.5, 13]; d.symbolOffset = [3.2, 0]; d.label = {align: 'left'}; }
  return d;
});
const tdevData = logTau.map((x, i) => [x, tdevLog[i]]);
const redLab = (arr, size, dist) => ({show: true, position: 'top', distance: dist, color: '#ff0000', fontSize: size,
  fontWeight: 'bold', fontFamily: FONT, formatter: p => arr[p.dataIndex]});

const series = [
  {type: 'scatter', xAxisIndex: 0, yAxisIndex: 0, data: blackData, symbol: XSYM, symbolSize: 6.5, silent: true,
   itemStyle: {color: '#000', borderColor: '#000', borderWidth: 1}, z: 2},
  {type: 'line', xAxisIndex: 0, yAxisIndex: 0, data: blueData, symbol: 'none', showSymbol: false, connectNulls: false,
   silent: true, lineStyle: {color: '#1E90FF', width: 4.5}, z: 3},
  {type: 'scatter', xAxisIndex: 4, yAxisIndex: 2, data: resData, symbol: XSYM, symbolSize: 6, silent: true,
   itemStyle: {color: '#000', borderColor: '#000', borderWidth: 1}, z: 2},
  {type: 'scatter', xAxisIndex: 8, yAxisIndex: 4, data: adevData, symbol: 'circle', symbolSize: 13, silent: true,
   itemStyle: {color: '#000'}, label: redLab(modAdevLabels, 20, -3), z: 3},
  {type: 'scatter', xAxisIndex: 8, yAxisIndex: 4, data: markLogTau.map(x => [x, -16.5]), silent: true,
   symbol: 'path://M0,10A10,10 0 0,1 20,10Z', symbolSize: [8, 4], symbolOffset: [0, -2],
   itemStyle: {color: '#000'}, label: redLab(markNames, 20, 0), z: 3},
  {type: 'scatter', xAxisIndex: 12, yAxisIndex: 8, data: tdevData, symbol: 'circle', symbolSize: 13, silent: true,
   itemStyle: {color: '#000'}, label: redLab(tdevLabels, 19, 19), z: 3},
  {type: 'scatter', xAxisIndex: 12, yAxisIndex: 8, data: markLogTau.map(x => [x, -9.988]), silent: true,
   symbol: 'circle', symbolSize: 12, itemStyle: {color: '#000'}, label: redLab(markNames, 20, 16), z: 3}
];

const subStyle = {fontFamily: FONT, fontSize: 20, fontWeight: 'bold', fill: '#000', padding: [22, 0, 0, 0]};
const mainStyle = {fontFamily: FONT, fontSize: 30, fontWeight: 'bold', fill: '#000'};
const graphic = [
  {type: 'text', x: 203, y: 800, silent: true, z: 10, style: {
    text: '{a|_2512_SAS0PT13_SAS0PT13.P3AA5}{a|     }{a|GPS P3 (x}{s|black}{a|) ,}{a|  }{a|GPSPPP (o}{s|blue}{a|)}{a|  }{a|2919Ep}',
    align: 'left', verticalAlign: 'middle', rich: {a: mainStyle, s: subStyle}}},
  {type: 'text', x: 203, y: 1370, silent: true, z: 10, style: {
    text: 'Max Smoothing Residual: _-4.328__2.248_-0.168  Sigma= 0.785ns',
    fontFamily: FONT, fontSize: 25, fontWeight: 'bold', fill: '#000', align: 'left', verticalAlign: 'middle'}},
  {type: 'text', x: 216, y: 1533, silent: true, z: 10, style: {
    text: '\u03C4 = 1006s', fontFamily: FONT, fontSize: 17, fontWeight: 'bold', fill: '#000', align: 'left', verticalAlign: 'middle'}}
];

const chart = echarts.init(document.getElementById('c'), null, {renderer: 'svg', width: 1488, height: 2105});
chart.setOption({
  animation: false,
  backgroundColor: '#ffffff',
  textStyle: {fontFamily: FONT},
  grid: [
    {left: 162, top: 125, width: 1260, height: 720},
    {left: 162, top: 953, width: 1260, height: 450},
    {left: 169, top: 1511, width: 540, height: 450},
    {left: 853, top: 1511, width: 540, height: 450}
  ],
  xAxis: xAxis,
  yAxis: yAxis,
  series: series,
  graphic: graphic
});
</script></body></html>
